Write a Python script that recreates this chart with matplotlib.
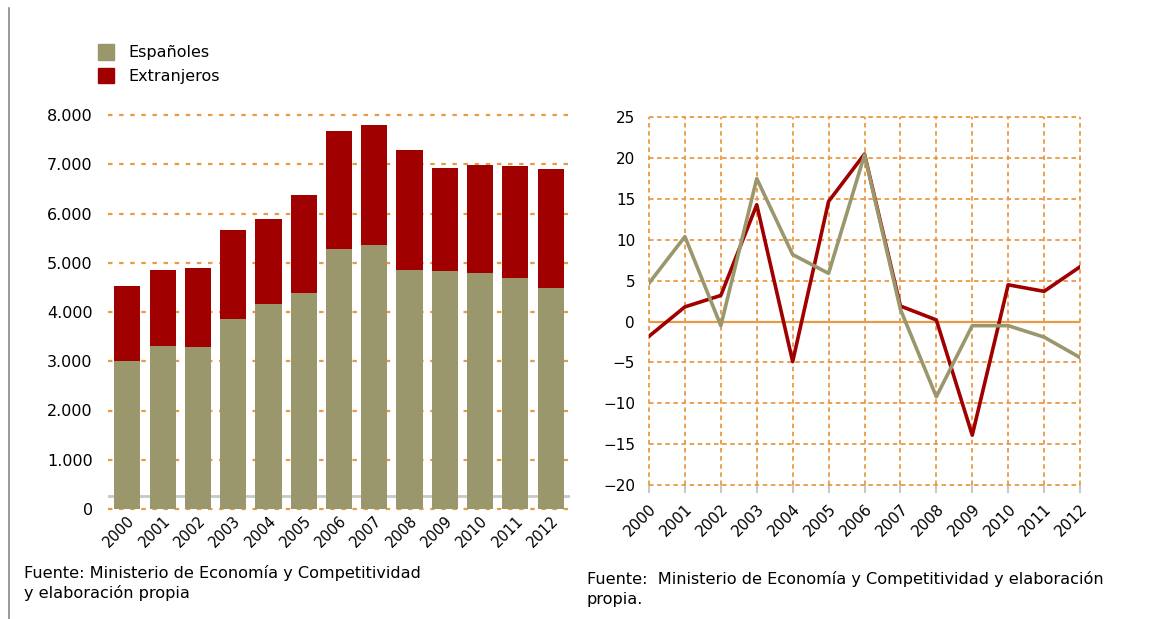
import matplotlib
matplotlib.use("Agg")
import matplotlib.pyplot as plt
from matplotlib.patches import Patch
from matplotlib.lines import Line2D
from matplotlib.ticker import FuncFormatter

# Data
years = ["2000", "2001", "2002", "2003", "2004", "2005", "2006",
         "2007", "2008", "2009", "2010", "2011", "2012"]
espanoles = [3000, 3300, 3290, 3850, 4155, 4385, 5280, 5355, 4855, 4825, 4790, 4690, 4485]
totales = [4530, 4855, 4890, 5670, 5890, 6380, 7670, 7800, 7295, 6925, 6990, 6965, 6905]
extranjeros = [t - e for t, e in zip(totales, espanoles)]

var_espanoles = [4.7, 10.4, -0.5, 17.5, 8.2, 5.9, 20.4, 1.5, -9.2, -0.5, -0.5, -1.9, -4.4]
var_extranjeros = [-1.8, 1.8, 3.2, 14.3, -4.9, 14.7, 20.5, 1.9, 0.2, -13.9, 4.5, 3.7, 6.7]

GREEN = "#9a976c"
RED = "#a00000"
ORANGE = "#e99a45"

plt.rcParams["font.family"] = "DejaVu Sans"

fig = plt.figure(figsize=(11.61, 6.19), dpi=100)

# Left: stacked bars
ax1 = fig.add_axes([108 / 1161, 1 - 509 / 619, 462 / 1161, 394 / 619])
x = list(range(len(years)))
ax1.bar(x, espanoles, width=0.74, color=GREEN, zorder=3)
ax1.bar(x, extranjeros, width=0.74, bottom=espanoles, color=RED, zorder=3)
ax1.axhline(270, color="#c8c8c8", lw=2, zorder=2)
ax1.set_xlim(-0.55, 12.55)
ax1.set_ylim(0, 8000)
ax1.set_yticks(range(0, 8001, 1000))
ax1.yaxis.set_major_formatter(FuncFormatter(lambda v, p: f"{int(v):,}".replace(",", ".")))
ax1.grid(axis="y", color=ORANGE, linestyle=(0, (2, 3)), lw=1.6, zorder=1)
ax1.set_xticks(x)
ax1.set_xticklabels(years, rotation=45, ha="right", rotation_mode="anchor")
ax1.tick_params(axis="y", length=0, labelsize=11.5, pad=11)
ax1.tick_params(axis="x", length=0, labelsize=10.5, pad=3)
for s in ax1.spines.values():
    s.set_visible(False)
for gl in ax1.get_ygridlines():
    gl.set_clip_on(False)

# Legend
fig.legend(handles=[Patch(color=GREEN, label="Españoles"), Patch(color=RED, label="Extranjeros")],
           loc="upper left", bbox_to_anchor=(84 / 1161, 1 - 30 / 619), frameon=False,
           fontsize=11.5, handlelength=1.0, handleheight=1.1, handletextpad=0.9, labelspacing=0.45)

# Right: lines
ax2 = fig.add_axes([649 / 1161, 1 - 485 / 619, 431 / 1161, 367.7 / 619])
ax2.plot(x, var_espanoles, color=GREEN, lw=2.6, zorder=4)
ax2.plot(x, var_extranjeros, color=RED, lw=2.6, zorder=3)
ax2.axhline(0, color=ORANGE, lw=1.6, zorder=2)
ax2.set_xlim(0, 12)
ax2.set_ylim(-20, 25)
ax2.set_yticks(range(-20, 26, 5))
ax2.set_xticks(x)
ax2.set_xticklabels(years, rotation=45, ha="right", rotation_mode="anchor")
ax2.grid(True, color=ORANGE, linestyle=(0, (2.5, 2)), lw=1.3, zorder=1)
ax2.tick_params(axis="y", length=0, labelsize=11, pad=10)
ax2.tick_params(axis="x", length=6, color="#c8c8c8", width=1.5, labelsize=11, pad=6)
for s in ax2.spines.values():
    s.set_visible(False)
for gl in ax2.get_xgridlines() + ax2.get_ygridlines():
    gl.set_clip_on(False)

# Source notes
fig.text(24 / 1161, 1 - 583 / 619, "Fuente: Ministerio de Economía y Competitividad\ny elaboración propia",
         fontsize=11.6, va="center", linespacing=1.35)
fig.text(587 / 1161, 1 - 589 / 619, "Fuente:  Ministerio de Economía y Competitividad y elaboración\npropia.",
         fontsize=11.6, va="center", linespacing=1.35)

# Left border line
fig.add_artist(Line2D([9 / 1161, 9 / 1161], [0, 1 - 8 / 619], transform=fig.transFigure,
                      color="#888888", lw=1.2))

fig.savefig("out.png", dpi=100)
